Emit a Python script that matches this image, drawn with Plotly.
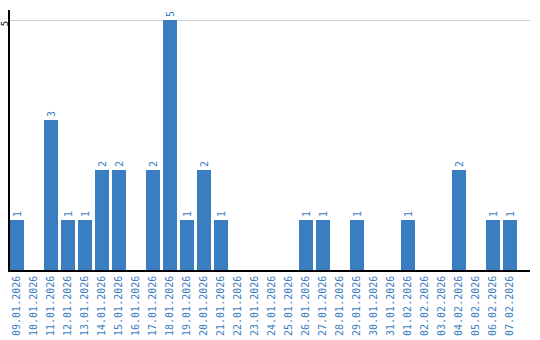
import plotly.graph_objects as go

dates = ["09.01.2026", "10.01.2026", "11.01.2026", "12.01.2026", "13.01.2026",
         "14.01.2026", "15.01.2026", "16.01.2026", "17.01.2026", "18.01.2026",
         "19.01.2026", "20.01.2026", "21.01.2026", "22.01.2026", "23.01.2026",
         "24.01.2026", "25.01.2026", "26.01.2026", "27.01.2026", "28.01.2026",
         "29.01.2026", "30.01.2026", "31.01.2026", "01.02.2026", "02.02.2026",
         "03.02.2026", "04.02.2026", "05.02.2026", "06.02.2026", "07.02.2026"]
values = [1, 0, 3, 1, 1, 2, 2, 0, 2, 5,
          1, 2, 1, 0, 0, 0, 0, 1, 1, 0,
          1, 0, 0, 1, 0, 0, 2, 0, 1, 1]

blue = "#3a7dc1"
labels = [str(v) if v > 0 else "" for v in values]

fig = go.Figure(go.Bar(
    x=list(range(len(dates))), y=values, width=14/17,
    marker=dict(color=blue, line=dict(width=0)),
    text=labels, textposition="outside", textangle=-90,
    textfont=dict(color=blue, size=10, family="DejaVu Sans Mono"),
    cliponaxis=False,
))

fig.update_layout(
    width=540, height=340,
    margin=dict(l=10, r=10, t=10, b=70),
    plot_bgcolor="white", paper_bgcolor="white",
    showlegend=False,
    xaxis=dict(
        range=[-7/17, -7/17 + 520/17], automargin=False,
        tickmode="array", tickvals=list(range(len(dates))), ticktext=dates,
        tickangle=-90, tickfont=dict(color=blue, size=10, family="DejaVu Sans Mono"),
        showgrid=False, showline=True, linecolor="black", linewidth=1.5,
        ticks="", zeroline=False,
    ),
    yaxis=dict(
        range=[0, 5.2], automargin=False, tickvals=[5], ticktext=["5"], tickangle=-90,
        ticklabelstandoff=-3, ticklabelshift=5,
        tickfont=dict(color="black", size=9, family="DejaVu Sans Mono"),
        showgrid=True, gridcolor="#cccccc", gridwidth=1,
        showline=True, linecolor="black", linewidth=1.5,
        ticks="", zeroline=False,
    ),
)

fig.write_html("out.html")
